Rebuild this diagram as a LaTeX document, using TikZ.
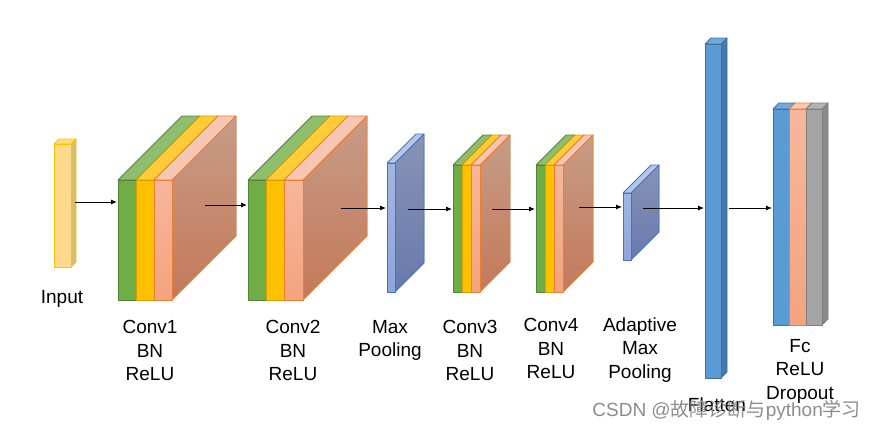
\documentclass[tikz,border=0pt]{standalone}
\usepackage{fontspec}
\setmainfont{Liberation Sans}
\newfontfamily\cjkfont{Noto Sans CJK SC}
\usetikzlibrary{arrows.meta}

\definecolor{infront}{HTML}{FFD98C}
\definecolor{intop}{HTML}{FFDC7E}
\definecolor{inside}{HTML}{D9BC74}
\definecolor{inline}{HTML}{FFC000}
\definecolor{grnfront}{HTML}{70AD47}
\definecolor{grntop}{HTML}{8FBF6C}
\definecolor{grnline}{HTML}{548235}
\definecolor{goldfront}{HTML}{FFC000}
\definecolor{goldtop}{HTML}{FFCB37}
\definecolor{goldline}{HTML}{D99E00}
\definecolor{salfronta}{HTML}{F6B79C}
\definecolor{salfrontb}{HTML}{F4A37E}
\definecolor{saltop}{HTML}{F8C7B2}
\definecolor{salsidea}{HTML}{C79C86}
\definecolor{salsideb}{HTML}{C4795A}
\definecolor{salline}{HTML}{ED7D31}
\definecolor{poolfronta}{HTML}{A2B6E3}
\definecolor{poolfrontb}{HTML}{8EA5DC}
\definecolor{pooltop}{HTML}{B4C7EA}
\definecolor{poolsidea}{HTML}{8794B6}
\definecolor{poolsideb}{HTML}{6879AD}
\definecolor{poolline}{HTML}{4472C4}
\definecolor{flatfront}{HTML}{5B9BD5}
\definecolor{flattop}{HTML}{72A9DC}
\definecolor{flatside}{HTML}{4679A8}
\definecolor{flatline}{HTML}{41719C}
\definecolor{greyfront}{HTML}{A5A5A5}
\definecolor{greytop}{HTML}{B3B3B3}
\definecolor{greyside}{HTML}{8A8A8A}
\definecolor{greyline}{HTML}{7F7F7F}
\definecolor{wmgray}{HTML}{8C8C8C}

\tikzset{
  input front/.style={fill=infront, draw=inline},
  input top/.style={fill=intop, draw=inline},
  input side/.style={fill=inside, draw=inline},
  green front/.style={fill=grnfront, draw=grnline},
  green top/.style={fill=grntop, draw=grnline},
  green side/.style={fill=grnfront, draw=grnline},
  gold front/.style={fill=goldfront, draw=goldline},
  gold top/.style={fill=goldtop, draw=goldline},
  gold side/.style={fill=goldfront, draw=goldline},
  salmon front/.style={top color=salfronta, bottom color=salfrontb, draw=salline},
  salmon top/.style={fill=saltop, draw=salline},
  salmon side/.style={top color=salsidea, bottom color=salsideb, draw=salline},
  pool front/.style={top color=poolfronta, bottom color=poolfrontb, draw=poolline},
  pool top/.style={fill=pooltop, draw=poolline},
  pool side/.style={top color=poolsidea, bottom color=poolsideb, draw=poolline},
  flat front/.style={fill=flatfront, draw=flatline},
  flat top/.style={fill=flattop, draw=flatline},
  flat side/.style={fill=flatside, draw=flatline},
  grey front/.style={fill=greyfront, draw=greyline},
  grey top/.style={fill=greytop, draw=greyline},
  grey side/.style={fill=greyside, draw=greyline},
  flow/.style={-{Latex[length=6pt,width=5pt]}, line width=0.9pt},
  layername/.style={anchor=north, align=center, inner sep=0pt,
    font=\fontsize{19}{23.5}\selectfont},
}

% one slab: left x, right x, top y, bottom y, depth, colour set
\newcommand{\layer}[6]{%
  \filldraw[#6 side] (#2,#3) -- (#2+#5,#3-#5) -- (#2+#5,#4-#5) -- (#2,#4) -- cycle;
  \filldraw[#6 top] (#1,#3) -- (#1+#5,#3-#5) -- (#2+#5,#3-#5) -- (#2,#3) -- cycle;
  \filldraw[#6 front] (#1,#3) rectangle (#2,#4);
}

\begin{document}
\begin{tikzpicture}[x=1pt, y=-1pt, line width=0.8pt, line join=round]
    \useasboundingbox (0,0) rectangle (875,429);
    % Input
    \layer{54}{71}{144}{267}{5}{input}
    % Conv1
    \layer{118}{136}{180}{300}{64}{green}
    \layer{136}{154}{180}{300}{64}{gold}
    \layer{154}{172}{180}{300}{64}{salmon}
    % Conv2
    \layer{248}{266}{180}{300}{64}{green}
    \layer{266}{284}{180}{300}{64}{gold}
    \layer{284}{303}{180}{300}{64}{salmon}
    % Max pooling
    \layer{387}{395}{163}{292}{29}{pool}
    % Conv3
    \layer{453}{462}{165}{292}{30}{green}
    \layer{462}{471}{165}{292}{30}{gold}
    \layer{471}{480}{165}{292}{30}{salmon}
    % Conv4
    \layer{536}{545}{165}{292}{30}{green}
    \layer{545}{554}{165}{292}{30}{gold}
    \layer{554}{563}{165}{292}{30}{salmon}
    % Adaptive max pooling
    \layer{623}{631}{193}{260}{28}{pool}
    % Flatten
    \layer{705}{721}{44}{378}{6}{flat}
    % Fc
    \layer{773}{789}{109}{325}{6}{flat}
    \layer{789}{806}{109}{325}{6}{salmon}
    \layer{806}{822}{109}{325}{6}{grey}

    % Arrow ends
    \coordinate (input-out) at (75,202);
    \coordinate (conv1-in) at (117,202);
    \coordinate (conv1-out) at (205,205);
    \coordinate (conv2-in) at (247,205);
    \coordinate (conv2-out) at (341,208);
    \coordinate (pool-in) at (386,208);
    \coordinate (pool-out) at (408,209);
    \coordinate (conv3-in) at (452,209);
    \coordinate (conv3-out) at (492,209);
    \coordinate (conv4-in) at (535,209);
    \coordinate (conv4-out) at (579,207);
    \coordinate (apool-in) at (622,207);
    \coordinate (apool-out) at (643,208);
    \coordinate (flat-in) at (704,208);
    \coordinate (flat-out) at (729,208);
    \coordinate (fc-in) at (772,208);
    % Arrows
    \draw[flow] (input-out) -- (conv1-in);
    \draw[flow] (conv1-out) -- (conv2-in);
    \draw[flow] (conv2-out) -- (pool-in);
    \draw[flow] (pool-out) -- (conv3-in);
    \draw[flow] (conv3-out) -- (conv4-in);
    \draw[flow] (conv4-out) -- (apool-in);
    \draw[flow] (apool-out) -- (flat-in);
    \draw[flow] (flat-out) -- (fc-in);

    % Labels
    \node[layername] (input-txt) at (62,290.5) {Input};
    \node[layername] (conv1-txt) at (150,320) {Conv1\\BN\\ReLU};
    \node[layername] (conv2-txt) at (293,320) {Conv2\\BN\\ReLU};
    \node[layername] (pool-txt) at (390,320) {Max\\Pooling};
    \node[layername] (conv3-txt) at (470,320) {Conv3\\BN\\ReLU};
    \node[layername] (conv4-txt) at (551,318) {Conv4\\BN\\ReLU};
    \node[layername] (apool-txt) at (640,317) {Adaptive\\Max\\Pooling};
    \node[layername] (flat-txt) at (717,397) {Flatten};
    \node[layername] (fc-txt) at (800,339) {Fc\\ReLU\\Dropout};
    % Watermark
    \node[anchor=west, inner sep=0pt, text=wmgray, font=\fontsize{19}{22}\selectfont]
      (mark) at (592,410) {CSDN @{\cjkfont 故障诊断与}python{\cjkfont 学习}};
\end{tikzpicture}
\end{document}
